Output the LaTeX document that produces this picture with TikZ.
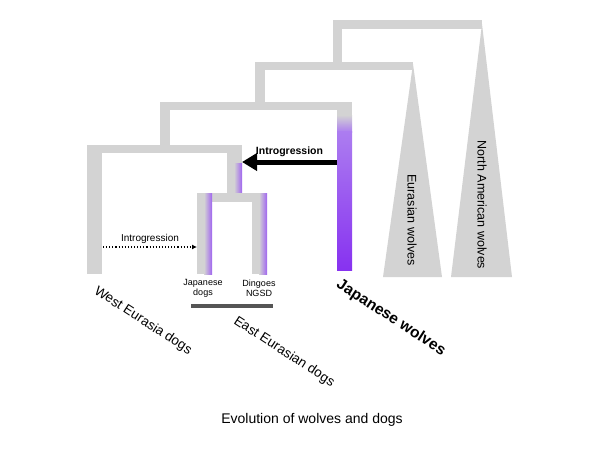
\documentclass[tikz,border=0pt]{standalone}
\usepackage{fontspec}
\setmainfont{Liberation Sans}
\usetikzlibrary{arrows.meta}
\definecolor{branchgray}{RGB}{211,211,211}
\definecolor{wolfpurple}{RGB}{135,50,240}
\definecolor{wolflight}{RGB}{172,125,240}
\definecolor{mixpurple}{RGB}{160,100,240}
\definecolor{bardark}{RGB}{85,85,85}
\begin{document}
\begin{tikzpicture}[x=1pt, y=-1pt, every node/.style={font=\fontsize{13.5}{15}\selectfont},
  branch/.style={fill=branchgray},
  clade/.style={fill=branchgray},
  tiplabel/.style={font=\fontsize{9}{10}\selectfont, align=center},
  grouplabel/.style={rotate=-33}]
\useasboundingbox (0,0) rectangle (600,450);
% wolf lineages
\fill[branch] (333,20) rectangle (482,29);
\fill[branch] (333,20) rectangle (342,66);
\fill[clade] (482,24) -- (512,277) -- (451,277) -- cycle;
\fill[branch] (255,62) rectangle (413,70);
\fill[branch] (255,62) rectangle (265,106);
\fill[clade] (413,64) -- (442,277) -- (383,277) -- cycle;
\fill[branch] (160,102) rectangle (352,110);
\fill[branch] (160,102) rectangle (170,149);
% Japanese wolves
\fill[branch] (337,102) rectangle (352,116);
\shade[top color=branchgray, bottom color=wolflight] (337,115) rectangle (352,132);
\shade[top color=wolflight, bottom color=wolfpurple] (337,131) rectangle (352,270);
% dog lineages
\fill[branch] (87,145) rectangle (242,153);
\fill[branch] (87,145) rectangle (102,274);
\fill[branch] (227,145) rectangle (242,202);
\shade[left color=branchgray, right color=mixpurple] (234,163) rectangle (242,195);
\fill[branch] (197,193) rectangle (267,202);
\fill[branch] (197,193) rectangle (212,274);
\fill[branch] (252,193) rectangle (267,274);
\shade[left color=branchgray, right color=mixpurple] (204,193) rectangle (212,274);
\shade[left color=branchgray, right color=mixpurple] (259,193) rectangle (267,274);
% introgression arrows
\coordinate (wolfsrc) at (337,162);
\coordinate (eastdog) at (242,162);
\draw[line width=5pt, -{Triangle[length=15pt, width=17pt]}] (wolfsrc) -- (eastdog)
  node[midway, above=-1pt, font=\fontsize{10.5}{12}\selectfont\bfseries] (introbig) {Introgression};
\coordinate (westsrc) at (103,247);
\coordinate (japdog) at (197,247);
\draw[line width=1.1pt, dotted, -{Latex[length=5pt, width=5pt]}] (westsrc) -- (japdog)
  node[midway, above=0pt, font=\fontsize{10}{12}\selectfont] (introdot) {Introgression};
% labels
\node[tiplabel] (jdogs) at (203,288) {Japanese\\dogs};
\node[tiplabel] (dingo) at (259,288) {Dingoes\\NGSD};
\fill[bardark] (191,304) rectangle (273,308);
\node[grouplabel] (westdogs) at (143,321) {West Eurasia dogs};
\node[grouplabel] (eastdogs) at (284,352) {East Eurasian dogs};
\node[grouplabel, font=\fontsize{15.5}{17}\selectfont\bfseries] (jwolves) at (391,318) {Japanese wolves};
\node[rotate=-90, font=\fontsize{12.5}{14}\selectfont] (euwolves) at (412,220) {Eurasian wolves};
\node[rotate=-90, font=\fontsize{12.5}{14}\selectfont] (nawolves) at (482,205) {North American wolves};
\node[font=\fontsize{14}{16}\selectfont] (title) at (312,420) {Evolution of wolves and dogs};
\end{tikzpicture}
\end{document}
